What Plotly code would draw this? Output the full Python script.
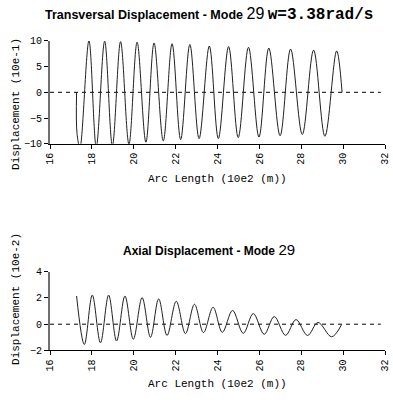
import plotly.graph_objects as go

# ---------------- data ----------------
# Transversal displacement (10e-1) vs arc length (10e2 m): extrema of the mode shape
trans_x = [17.27, 17.29, 17.43, 17.86, 18.21, 18.61, 18.98, 19.37, 19.77, 20.16, 20.58,
           20.97, 21.41, 21.83, 22.24, 22.68, 23.12, 23.61, 24.04, 24.53, 24.99, 25.48,
           25.98, 26.45, 26.99, 27.49, 28.05, 28.59, 29.13, 29.69, 29.95]
trans_y = [0.0, -8.0, -10.8, 10.0, -10.6, 9.95, -10.4, 9.85, -10.1, 9.75, -9.7,
           9.6, -9.45, 9.45, -9.2, 9.3, -9.0, 9.0, -9.0, 8.9, -8.8, 8.75,
           -8.7, 8.6, -8.45, 8.4, -8.2, 8.2, -8.55, 8.05, 0.0]

# Axial displacement (10e-2) vs arc length (10e2 m)
axial_x = [17.27, 17.64, 18.02, 18.41, 18.80, 19.18, 19.58, 19.98, 20.40, 20.80, 21.19,
           21.59, 22.03, 22.47, 22.90, 23.33, 23.79, 24.23, 24.72, 25.23, 25.71, 26.23,
           26.71, 27.25, 27.75, 28.30, 28.80, 29.45, 29.92]
axial_y = [2.15, -1.55, 2.22, -1.42, 2.22, -1.28, 2.15, -1.15, 2.03, -1.0, 1.93,
           -0.86, 1.75, -0.72, 1.52, -0.64, 1.29, -0.62, 1.05, -0.70, 0.81, -0.77,
           0.58, -0.85, 0.35, -0.86, 0.13, -0.96, -0.05]

zero_x = [16, 31.8]
zero_y = [0, 0]

x_ticks = [16, 18, 20, 22, 24, 26, 28, 30, 32]
trans_ticks = [-10, -5, 0, 5, 10]
axial_ticks = [-2, 0, 2, 4]

mono = "Courier New, Liberation Mono, monospace"
sans = "Arial, Liberation Sans, sans-serif"

fig = go.Figure()

# zero reference lines (dashed)
for xa, ya in (("x", "y"), ("x2", "y2")):
    fig.add_trace(go.Scatter(x=zero_x, y=zero_y, mode="lines", xaxis=xa, yaxis=ya,
                             line=dict(color="black", width=1, dash="4px,4px"),
                             hoverinfo="skip", showlegend=False))

fig.add_trace(go.Scatter(x=trans_x, y=trans_y, mode="lines", xaxis="x", yaxis="y",
                         line=dict(color="#202020", width=1, shape="spline", smoothing=1.0),
                         showlegend=False))
fig.add_trace(go.Scatter(x=axial_x, y=axial_y, mode="lines", xaxis="x2", yaxis="y2",
                         line=dict(color="#202020", width=1, shape="spline", smoothing=1.0),
                         showlegend=False))

xaxis_common = dict(range=[16, 32], tickvals=x_ticks, ticktext=[str(t) for t in x_ticks],
                    tickangle=-90, ticks="outside", ticklen=4, tickcolor="black",
                    showline=True, linecolor="black", linewidth=1, showgrid=False,
                    zeroline=False, tickfont=dict(family=mono, size=10, color="black"),
                    domain=[0, 1])
yaxis_common = dict(ticks="outside", ticklen=4, tickcolor="black", showline=True,
                    linecolor="#707070", linewidth=2, showgrid=False, zeroline=False,
                    tickfont=dict(family=mono, size=10, color="black"))

fig.update_layout(
    width=393, height=402,
    margin=dict(l=50, r=8, t=0, b=0),
    paper_bgcolor="white", plot_bgcolor="white",
    xaxis=dict(**xaxis_common, anchor="y"),
    yaxis=dict(**yaxis_common, range=[-10, 10], tickvals=trans_ticks,
               domain=[0.6443, 0.908], anchor="x"),
    xaxis2=dict(**xaxis_common, anchor="y2"),
    yaxis2=dict(**yaxis_common, range=[-2, 4], tickvals=axial_ticks,
                domain=[0.1144, 0.316], anchor="x2"),
    annotations=[
        dict(text="<b>Transversal Displacement - Mode</b> <span style='font-size:16px'>29</span> "
                  "<span style='font-family:Courier New, Liberation Mono, monospace;font-size:16px'><b>w=3.38rad/s</b></span>",
             x=0.476, y=1 - 10 / 402, xref="paper", yref="paper", showarrow=False,
             font=dict(family=sans, size=12.5, color="black"), xanchor="center", yanchor="middle"),
        dict(text="<b>Axial Displacement - Mode</b> <span style='font-size:15px'>29</span>",
             x=0.476, y=1 - 252 / 402, xref="paper", yref="paper", showarrow=False,
             font=dict(family=sans, size=12, color="black"), xanchor="center", yanchor="middle"),
        dict(text="Displacement (10e-1)", textangle=-90, x=(16 - 50) / 335, y=1 - 102 / 402,
             xref="paper", yref="paper", showarrow=False, xanchor="center", yanchor="middle",
             font=dict(family=mono, size=11, color="black")),
        dict(text="Displacement (10e-2)", textangle=-90, x=(16 - 50) / 335, y=1 - 303 / 402,
             xref="paper", yref="paper", showarrow=False, xanchor="center", yanchor="middle",
             font=dict(family=mono, size=11, color="black")),
        dict(text="Arc Length (10e2 (m))", x=(217 - 50) / 335, y=1 - 179 / 402,
             xref="paper", yref="paper", showarrow=False, xanchor="center", yanchor="middle",
             font=dict(family=mono, size=11, color="black")),
        dict(text="Arc Length (10e2 (m))", x=(217 - 50) / 335, y=1 - 391 / 402,
             xref="paper", yref="paper", showarrow=False, xanchor="center", yanchor="middle",
             font=dict(family=mono, size=11, color="black")),
    ],
)

fig.write_html("out.html")
